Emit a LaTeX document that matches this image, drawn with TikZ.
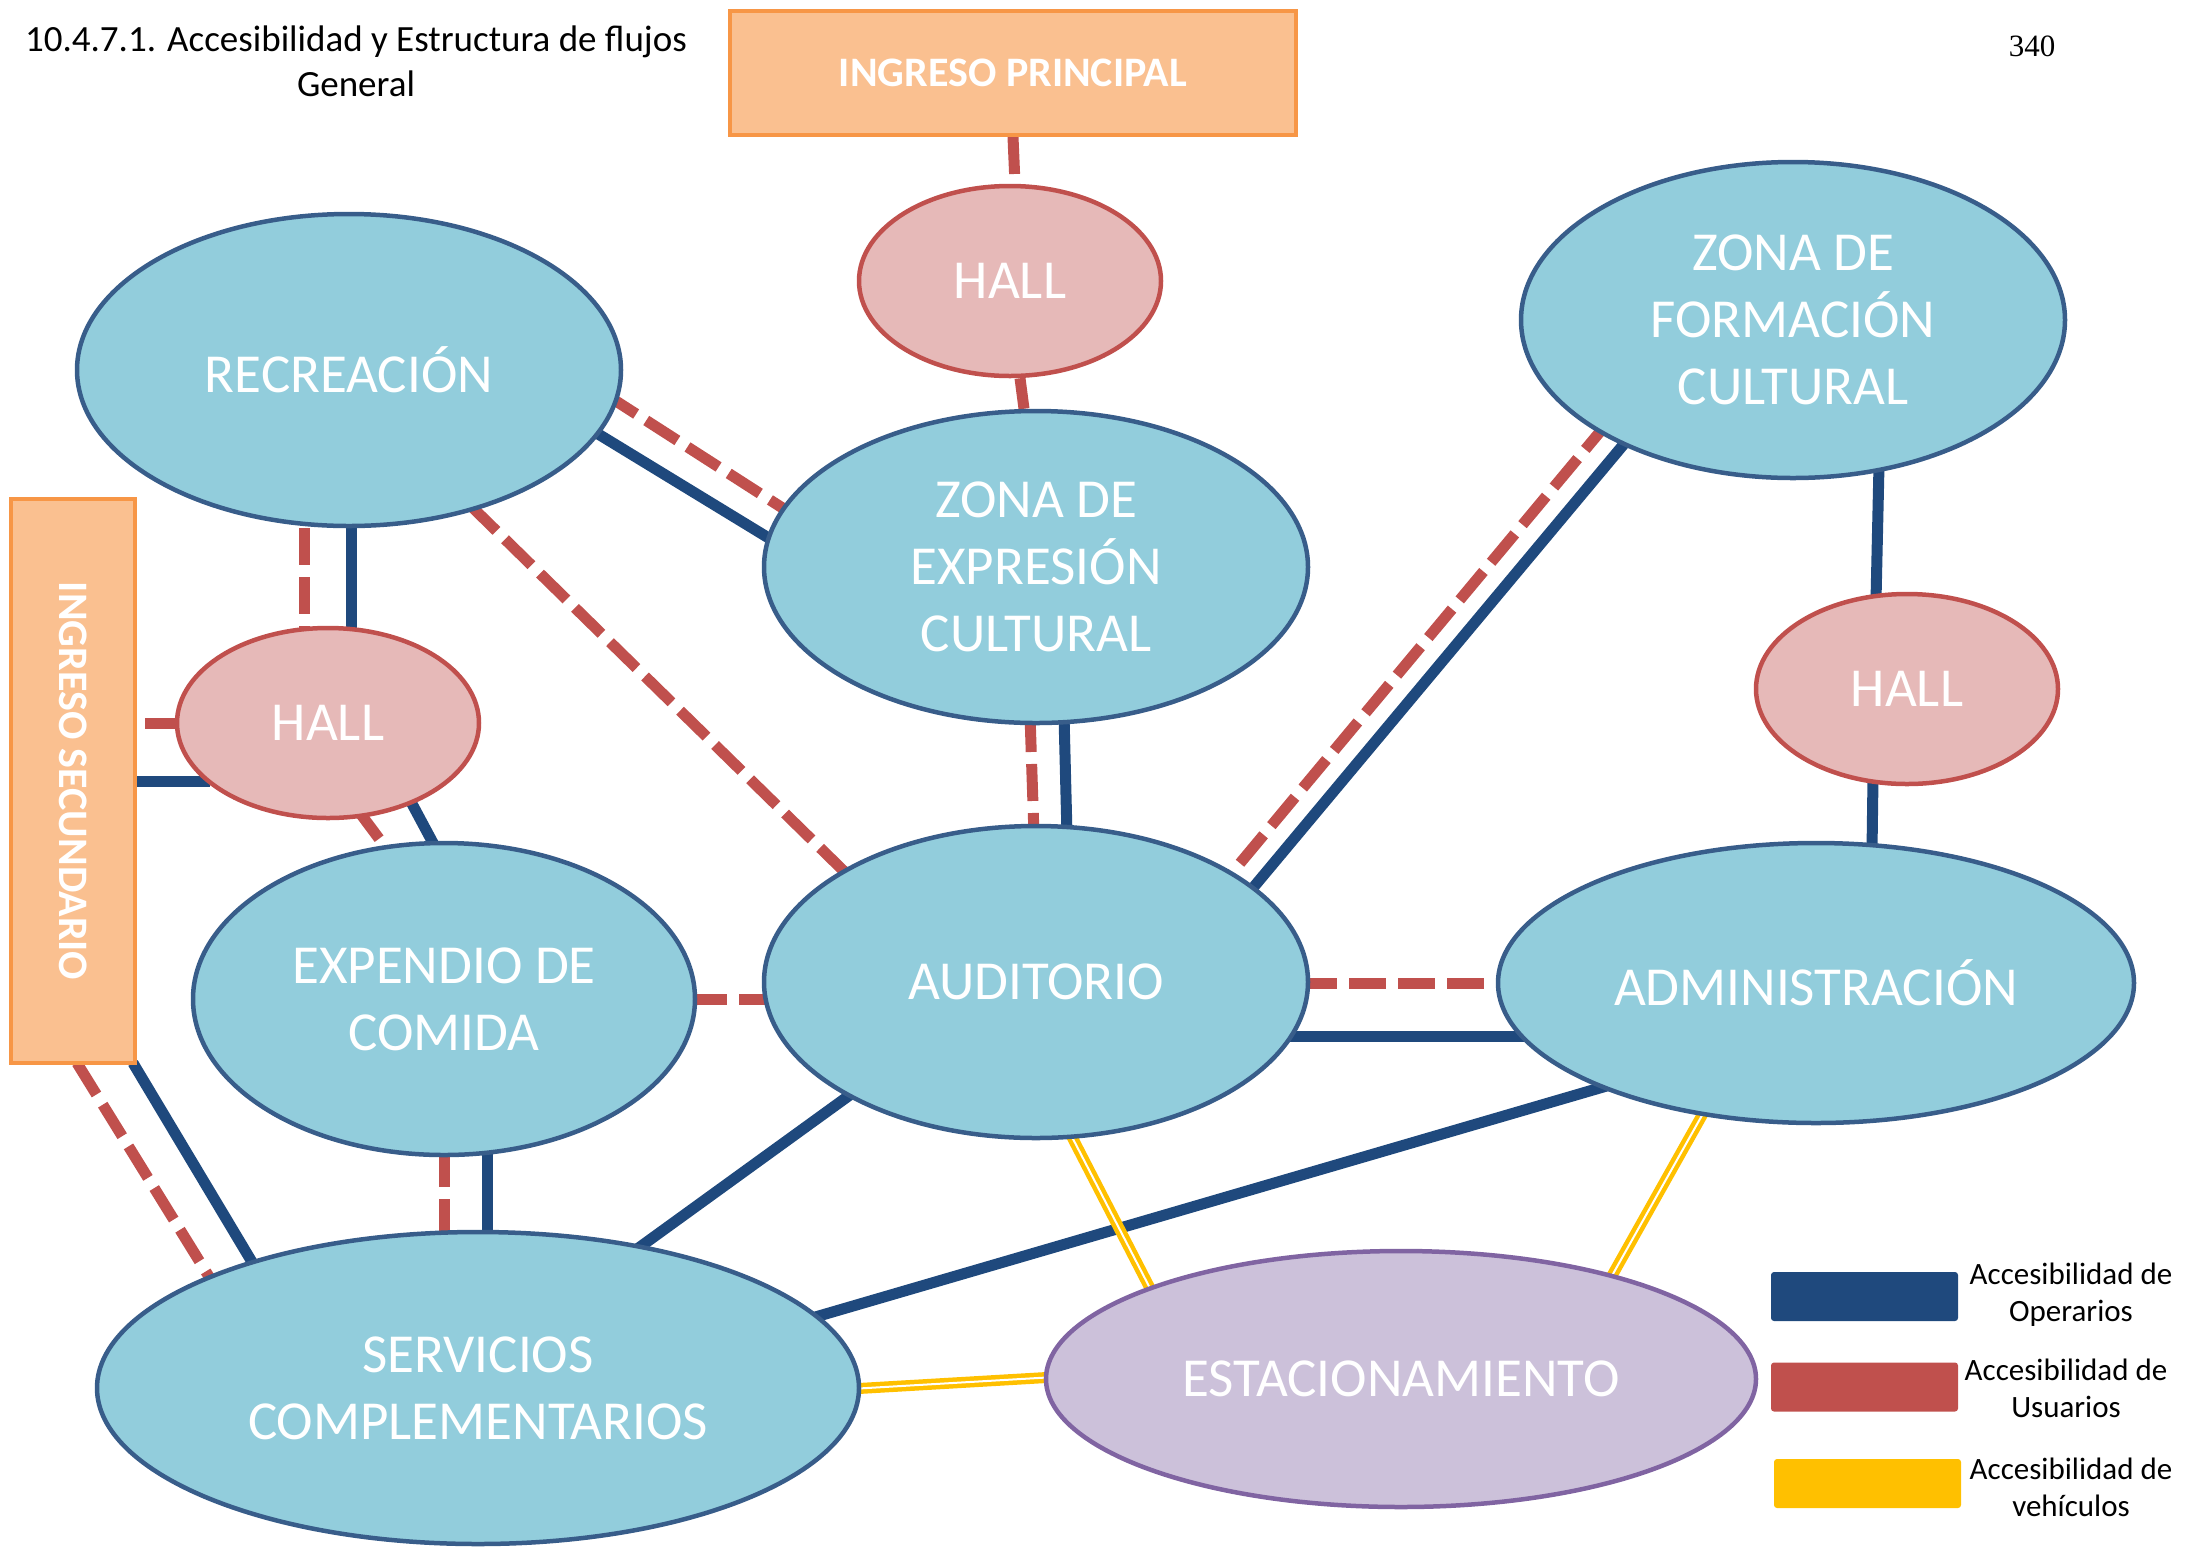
\documentclass[tikz,border=0pt]{standalone}
\usepackage{fontspec}
\setmainfont{Carlito}
\newfontfamily\pgserif{Liberation Serif}
\usetikzlibrary{shapes.geometric,backgrounds,calc}

\definecolor{opblue}{HTML}{1F497D}
\definecolor{usred}{HTML}{C0504D}
\definecolor{vehyel}{HTML}{FFC000}
\definecolor{elfill}{HTML}{92CDDC}
\definecolor{eldraw}{HTML}{385D8A}
\definecolor{hallfill}{HTML}{E6B9B8}
\definecolor{estfill}{HTML}{CCC1DA}
\definecolor{estdraw}{HTML}{8064A2}
\definecolor{ingfill}{HTML}{FAC090}
\definecolor{ingdraw}{HTML}{F79646}

\begin{document}
\begin{tikzpicture}[x=1pt,y=-1pt,
  zone/.style={ellipse, fill=elfill, draw=eldraw, line width=4.5pt, inner sep=0pt,
    text=white, align=center, font=\fontsize{55}{67}\selectfont},
  bigzone/.style={zone, minimum width=544pt, minimum height=312pt},
  hallnode/.style={zone, fill=hallfill, draw=usred, minimum width=302pt, minimum height=190pt},
  ingbox/.style={rectangle, fill=ingfill, draw=ingdraw, line width=4pt, inner sep=0pt,
    text=white, font=\bfseries\fontsize{42}{50}\selectfont},
  opline/.style={opblue, line width=11pt},
  usline/.style={usred, line width=11pt, dash pattern=on 37pt off 12pt},
  vehline/.style={vehyel, line width=4.5pt, double=white, double distance=2pt},
  legbox/.style={rectangle, rounded corners=3pt, minimum width=187pt, minimum height=49pt, inner sep=0pt},
  legtext/.style={align=center, font=\fontsize{31}{37}\selectfont, inner sep=0pt}
]
\useasboundingbox (0,0) rectangle (2190,1551);

% title and page number
\node[align=center, font=\fontsize{37}{45}\selectfont] (title) at (356,61.5)
  {10.4.7.1. Accesibilidad y Estructura de flujos\\General};
\node[font=\pgserif\fontsize{31}{37}\selectfont] (pg) at (2032,46) {340};

% entrances
\node[ingbox, minimum width=566pt, minimum height=124pt] (ip) at (1013,73) {INGRESO PRINCIPAL};
\node[ingbox, rotate=-90, minimum width=564pt, minimum height=124pt] (is) at (73,781) {INGRESO SECUNDARIO};

% zones
\node[hallnode] (hallT) at (1010,281) {HALL};
\node[bigzone] (rec) at (349,370) {RECREACIÓN};
\node[bigzone] (zec) at (1036,567) {ZONA DE\\EXPRESIÓN\\CULTURAL};
\node[bigzone, minimum height=316pt] (zfc) at (1793,320) {ZONA DE\\FORMACIÓN\\CULTURAL};
\node[hallnode] (hallR) at (1907,689) {HALL};
\node[hallnode] (hallL) at (328,723) {HALL};
\node[zone, minimum width=502pt, minimum height=312pt] (exp) at (444,999) {EXPENDIO DE\\COMIDA};
\node[bigzone] (aud) at (1036,982) {AUDITORIO};
\node[zone, minimum width=636pt, minimum height=280pt] (adm) at (1816,983) {ADMINISTRACIÓN};
\node[zone, minimum width=762pt, minimum height=312pt] (ser) at (478,1388) {SERVICIOS\\COMPLEMENTARIOS};
\node[zone, fill=estfill, draw=estdraw, minimum width=710pt, minimum height=256pt] (est) at (1401,1379) {ESTACIONAMIENTO};

% connectors
\begin{scope}[on background layer]
\draw[usline] (ip.south) -- ([xshift=5pt]hallT.north);
\draw[usline] ([xshift=10pt]hallT.south) -- ([xshift=-12pt]zec.north);
\draw[opline] ([shift={(241,59)}]rec.center) -- ([shift={(-246,-16)}]zec.center);
\draw[usline] ([shift={(256,24)}]rec.center) -- ([shift={(-241,-51)}]zec.center);
\draw[usline] ([shift={(-45,158)}]rec.center) -- ([shift={(-24,-90)}]hallL.center);
\draw[opline] ([shift={(2,150)}]rec.center) -- ([shift={(23,-90)}]hallL.center);
\draw[usline] ([shift={(121,135)}]rec.center) -- ([shift={(-180,-99)}]aud.center);
\draw[usline] ([shift={(72,-58)}]is.center) -- ([shift={(-138,0)}]hallL.center);
\draw[opline] ([shift={(60,0)}]is.center) -- ([shift={(-118,58)}]hallL.center);
\draw[usline] ([shift={(29,86)}]hallL.center) -- ([shift={(-49,-139)}]exp.center);
\draw[opline] ([shift={(82,77)}]hallL.center) -- ([shift={(-4,-143)}]exp.center);
\draw[usline] ([shift={(-6,148)}]zec.center) -- ([shift={(-2,-147)}]aud.center);
\draw[opline] ([shift={(28,148)}]zec.center) -- ([shift={(31,-147)}]aud.center);
\draw[usline] ([shift={(-184,101)}]zfc.center) -- ([shift={(195,-108)}]aud.center);
\draw[opline] ([shift={(-159,112)}]zfc.center) -- ([shift={(211,-87)}]aud.center);
\draw[opline] ([shift={(86,145)}]zfc.center) -- ([shift={(-31,-89)}]hallR.center);
\draw[opline] ([shift={(-34,89)}]hallR.center) -- ([shift={(56,-133)}]adm.center);
\draw[usline] ([shift={(264,1)}]aud.center) -- ([shift={(-306,0)}]adm.center);
\draw[opline] ([shift={(250,54)}]aud.center) -- ([shift={(-286,53)}]adm.center);
\draw[usline] ([shift={(246,0)}]exp.center) -- ([shift={(-261,17)}]aud.center);
\draw[usline] ([shift={(0,151)}]exp.center) -- ([shift={(-34,-148)}]ser.center);
\draw[opline] ([shift={(43,151)}]exp.center) -- ([shift={(9,-148)}]ser.center);
\draw[usline] ([shift={(4,282)}]is.center) -- ([shift={(-262,-100)}]ser.center);
\draw[opline] ([shift={(60,282)}]is.center) -- ([shift={(-220,-116)}]ser.center);
\draw[opline] ([shift={(-182,110)}]aud.center) -- ([shift={(155,-136)}]ser.center);
\draw[opline] ([shift={(-206,102)}]adm.center) -- ([shift={(327,-68)}]ser.center);
\draw[vehline] ([shift={(35,153)}]aud.center) -- ([shift={(-248,-85)}]est.center);
\draw[vehline] ([shift={(-111,127)}]adm.center) -- ([shift={(208,-98)}]est.center);
\draw[vehline] ([shift={(372,1)}]ser.center) -- ([shift={(-346,-2)}]est.center);
\end{scope}

% legend
\node[legbox, fill=opblue] (lg1) at (1864.5,1296.5) {};
\node[legbox, fill=usred] (lg2) at (1864.5,1387) {};
\node[legbox, fill=vehyel] (lg3) at (1867.5,1483.5) {};
\node[legtext] (lt1) at (2071,1295) {Accesibilidad de\\Operarios};
\node[legtext] (lt2) at (2066,1388) {Accesibilidad de\\Usuarios};
\node[legtext] (lt3) at (2071,1487) {Accesibilidad de\\vehículos};
\end{tikzpicture}
\end{document}
